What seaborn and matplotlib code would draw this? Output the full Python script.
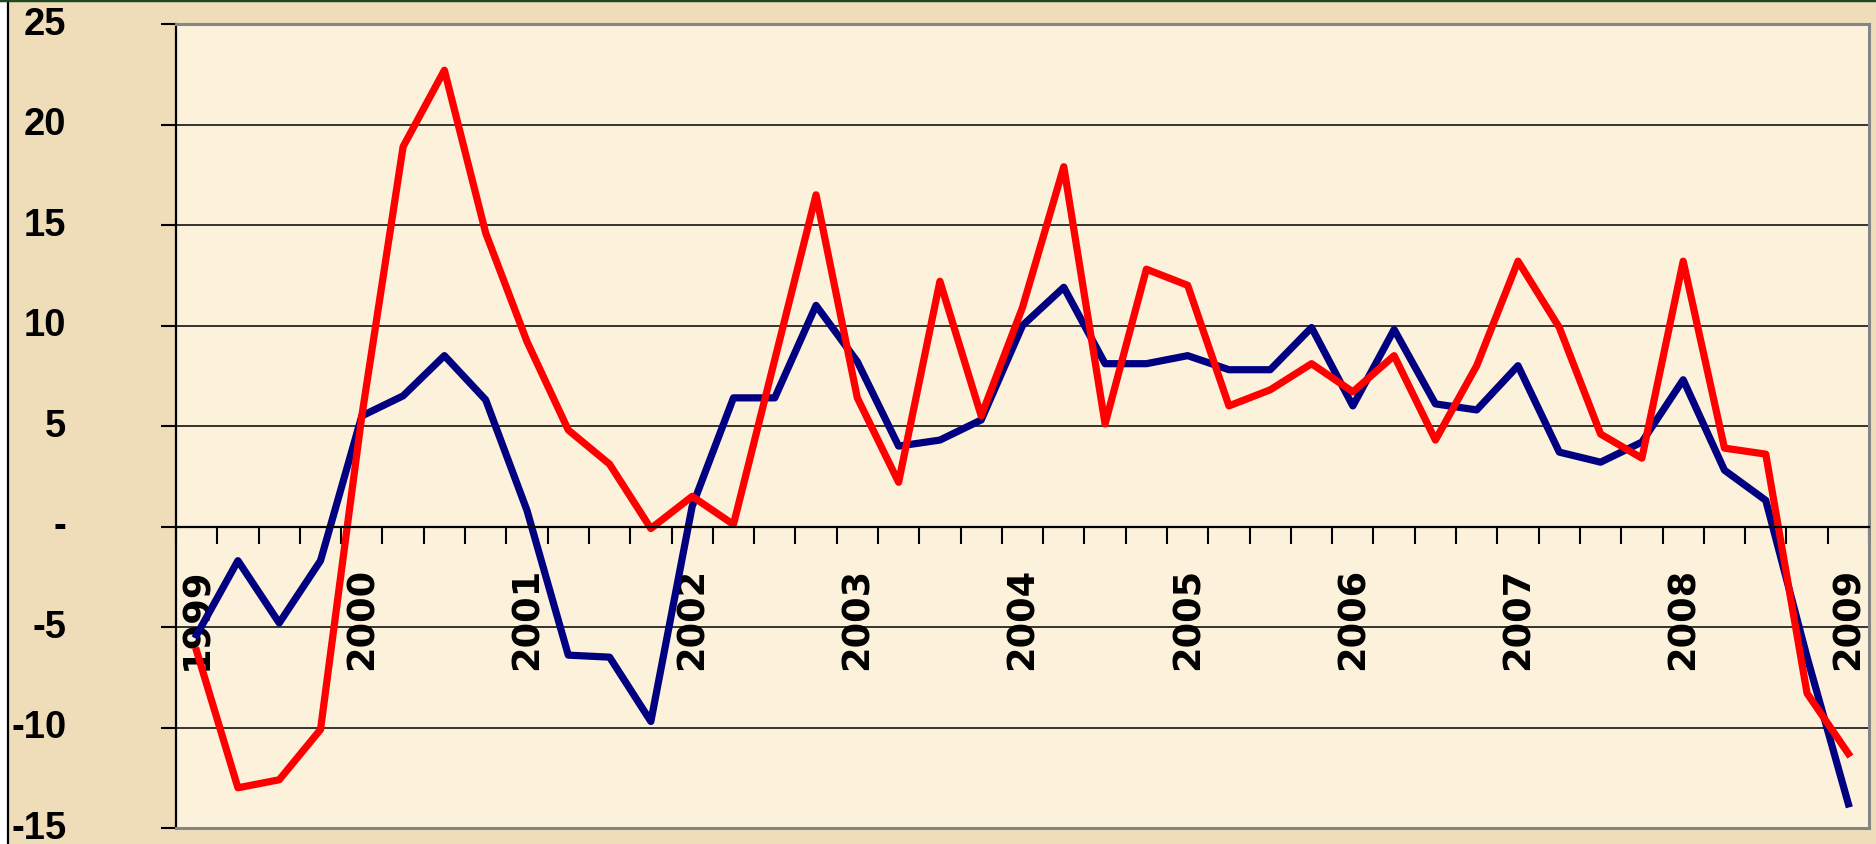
import numpy as np
import pandas as pd
import seaborn as sns
import matplotlib.pyplot as plt
from matplotlib.lines import Line2D
from matplotlib.patches import Rectangle
from matplotlib.transforms import ScaledTranslation

# quarterly values, 1999 Q1 .. 2009 Q1
years = ["1999", "2000", "2001", "2002", "2003", "2004",
         "2005", "2006", "2007", "2008", "2009"]
serie1 = [-5.4, -1.7, -4.8, -1.7, 5.5, 6.5, 8.5, 6.3, 0.8, -6.4,
          -6.5, -9.7, 1.0, 6.4, 6.4, 11.0, 8.2, 4.0, 4.3, 5.3,
          10.0, 11.9, 8.1, 8.1, 8.5, 7.8, 7.8, 9.9, 6.0, 9.8,
          6.1, 5.8, 8.0, 3.7, 3.2, 4.2, 7.3, 2.8, 1.3, -6.5,
          -13.8]
serie2 = [-6.2, -13.0, -12.6, -10.1, 5.5, 18.9, 22.7, 14.6, 9.2, 4.8,
          3.1, -0.1, 1.5, 0.1, 8.3, 16.5, 6.4, 2.2, 12.2, 5.5,
          10.9, 17.9, 5.1, 12.8, 12.0, 6.0, 6.8, 8.1, 6.7, 8.5,
          4.3, 8.0, 13.2, 9.9, 4.6, 3.4, 13.2, 3.9, 3.6, -8.3,
          -11.3]
yticks = [-15, -10, -5, 0, 5, 10, 15, 20, 25]
ylabels = ["-15", "-10", "-5", "-", "5", "10", "15", "20", "25"]

n = len(serie1)
df = pd.DataFrame({
    "q": list(range(n)) * 2,
    "value": serie1 + serie2,
    "series": ["Serie 1"] * n + ["Serie 2"] * n,
})

plt.rcParams['font.family'] = ['Liberation Sans', 'DejaVu Sans']

W, H = 1876, 845
fig = plt.figure(figsize=(W / 100, H / 100), dpi=100)
fig.patch.set_facecolor("#EEDDB8")
ax = fig.add_axes([176 / W, 16 / H, (1869 - 176) / W, (829 - 25) / H])
ax.set_facecolor("#FCF2DC")

sns.lineplot(data=df, x="q", y="value", hue="series",
             palette={"Serie 1": "#000080", "Serie 2": "#FF0000"},
             linewidth=5.2, legend=False, ax=ax)
ax.set_xlabel("")
ax.set_ylabel("")

ax.set_xlim(-0.5, n - 0.5)
ax.set_ylim(-15, 25)

# y axis
ax.set_yticks(yticks)
ax.set_yticklabels(ylabels, fontsize=27.5, fontweight="bold")
ax.tick_params(axis="y", direction="out", length=11, width=1.5,
               color="black", pad=68)
lift = ScaledTranslation(0, 0.04, fig.dpi_scale_trans)
for lab in ax.get_yticklabels():
    lab.set_transform(lab.get_transform() + lift)
ax.set_axisbelow(True)
ax.yaxis.grid(True, color="black", linewidth=1.1)

# x axis sits on zero, ticks between categories, year labels under it
ax.spines["bottom"].set_position(("data", 0))
ax.set_xticks(np.arange(n + 1) - 0.5)
ax.set_xticklabels([])
ax.tick_params(axis="x", which="major", direction="out", length=12,
               width=1.5, color="black")
ax.set_xticks(range(0, n, 4), minor=True)
ax.set_xticklabels(years, minor=True, rotation=90, fontsize=26.5,
                   fontweight="bold", family="DejaVu Sans")
ax.tick_params(axis="x", which="minor", length=0, pad=29)

for side in ["left", "bottom"]:
    ax.spines[side].set_color("black")
    ax.spines[side].set_linewidth(1.6)
for side in ["top", "right"]:
    ax.spines[side].set_color("#858585")
    ax.spines[side].set_linewidth(2.2)
ax.axhline(-15, color="#858585", linewidth=2.2, clip_on=False, zorder=3)

# slide frame bits
fig.add_artist(Rectangle((0, 0), 7 / W, 1, transform=fig.transFigure,
                         facecolor="white", edgecolor="none"))
fig.add_artist(Line2D([8 / W, 8 / W], [0, 1], transform=fig.transFigure,
                      color="black", linewidth=1.6))
fig.add_artist(Line2D([0, 1], [1 - 1 / H, 1 - 1 / H], transform=fig.transFigure,
                      color="#1E4A22", linewidth=2.5))

fig.savefig("out.png", dpi=100, facecolor=fig.get_facecolor())
